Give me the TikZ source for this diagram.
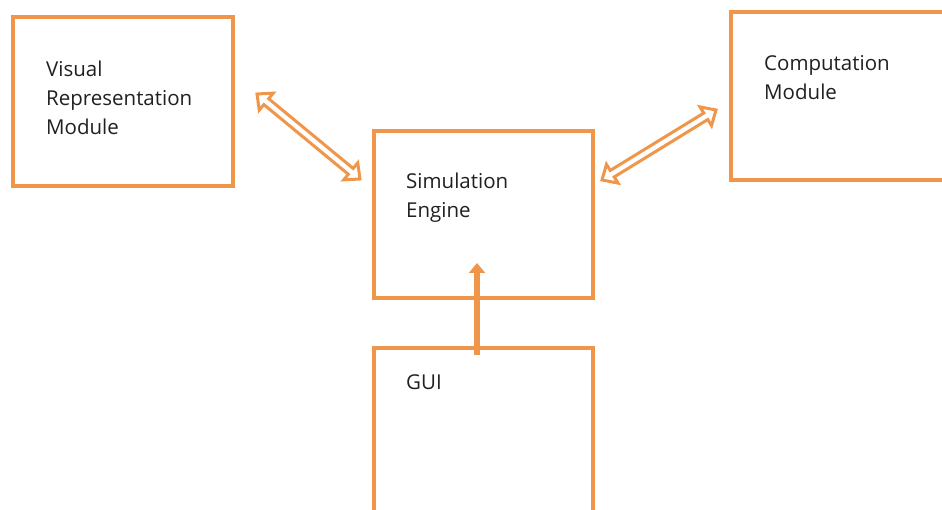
\documentclass[tikz,border=0pt]{standalone}
\usepackage{fontspec}
\setmainfont{Open Sans}
\usetikzlibrary{arrows.meta,calc}
\definecolor{orng}{HTML}{F0964A}
\definecolor{txt}{HTML}{231F20}
\newcommand\hollowarrow[2]{%
  \draw[hollow] let \p1=($(#2)-(#1)$), \n1={veclen(\x1,\y1)}, \n2={atan2(\y1,\x1)} in
    [shift={(#1)}, rotate=\n2]
    (0,0) -- (12,11) -- (12,3.8) -- (\n1-12,3.8) -- (\n1-12,11) -- (\n1,0)
    -- (\n1-12,-11) -- (\n1-12,-3.8) -- (12,-3.8) -- (12,-11) -- cycle;}
\begin{document}
\begin{tikzpicture}[x=1pt,y=-1pt,
  box/.style={draw=orng, line width=3.6pt, minimum width=#1, inner sep=0pt, outer sep=0pt},
  lbl/.style={anchor=north west, align=left, text=txt, font=\fontsize{20.5}{29}\selectfont, inner sep=0pt},
  hollow/.style={draw=orng, line width=3pt, line join=miter, fill=white},
  up/.style={draw=orng, line width=6.5pt, -{Triangle[width=16pt,length=10pt]}}]
\useasboundingbox (0,0) rectangle (942,510);
\node[box=220pt, minimum height=169pt] (vis) at (123,101.5) {};
\node[box=230pt, minimum height=168pt] (comp) at (846,96) {};
\node[box=219pt, minimum height=167pt] (sim) at (483.5,214.5) {};
\node[box=219pt, minimum height=176pt] (gui) at (483.5,436) {};
\node[lbl] (vist) at (46,61) {Visual\\Representation\\Module};
\node[lbl] (compt) at (764,55) {Computation\\Module};
\node[lbl] (simt) at (406,173) {Simulation\\Engine};
\node[lbl] (guit) at (406,374) {GUI};
\coordinate (a1) at (257,94);
\coordinate (a2) at (360,179);
\coordinate (b1) at (602,180);
\coordinate (b2) at (716,110);
\coordinate (c1) at (477,355);
\coordinate (c2) at (477,263);
\hollowarrow{a1}{a2}
\hollowarrow{b1}{b2}
\draw[up] (c1) -- (c2);
\end{tikzpicture}
\end{document}
